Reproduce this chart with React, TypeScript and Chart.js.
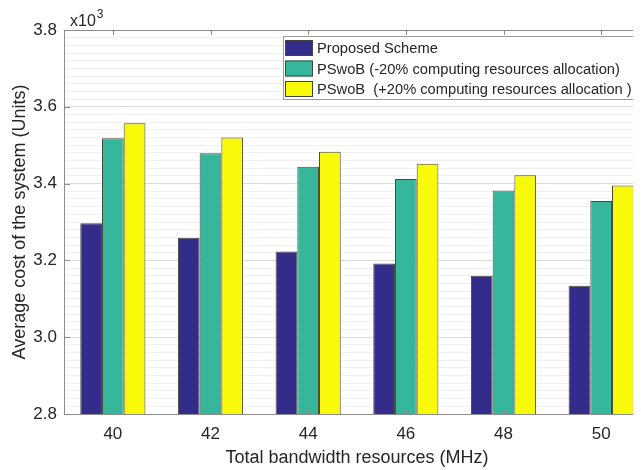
import React, { useEffect, useRef } from "react";
import { Chart, registerables } from "chart.js";

Chart.register(...registerables);

const categories = ["40", "42", "44", "46", "48", "50"];
const proposedScheme = [3.297, 3.259, 3.223, 3.192, 3.160, 3.134];
const pswobMinus20 = [3.518, 3.479, 3.444, 3.412, 3.382, 3.355];
const pswobPlus20 = [3.557, 3.520, 3.483, 3.452, 3.422, 3.395];
const seriesLabels = [
  "Proposed Scheme",
  "PSwoB (-20% computing resources allocation)",
  "PSwoB  (+20% computing resources allocation )",
];
const seriesColors = ["#332c8a", "#36b79c", "#f9f90a"];
const yMin = 2.8;
const yMax = 3.8;
const yMinorStep = 0.02;

const FONT = "'Liberation Sans', Arial, Helvetica, sans-serif";

const isMajor = (v: number) => Math.round(v * 100) % 20 === 0;

const framePlugin = {
  id: "frame",
  afterDatasetsDraw(chart: any) {
    const { ctx, chartArea } = chart;
    const { left, right, top, bottom } = chartArea;
    const x = chart.scales.x;
    const y = chart.scales.y;
    ctx.save();
    ctx.strokeStyle = "#8c8c8c";
    ctx.lineWidth = 1;
    ctx.beginPath();
    ctx.moveTo(left + 0.5, top + 0.5);
    ctx.lineTo(right, top + 0.5);
    ctx.moveTo(left + 0.5, top);
    ctx.lineTo(left + 0.5, bottom + 0.5);
    ctx.lineTo(right, bottom + 0.5);
    for (let i = 0; i < categories.length; i++) {
      const px = Math.round(x.getPixelForValue(i)) + 0.5;
      ctx.moveTo(px, top);
      ctx.lineTo(px, top + 5);
      ctx.moveTo(px, bottom);
      ctx.lineTo(px, bottom - 5);
    }
    for (let v = yMin; v <= yMax + 1e-9; v += 0.2) {
      const py = Math.round(y.getPixelForValue(v)) + 0.5;
      ctx.moveTo(left, py);
      ctx.lineTo(left + 6, py);
    }
    ctx.stroke();

    ctx.fillStyle = "#262626";
    ctx.textBaseline = "alphabetic";
    ctx.textAlign = "left";
    ctx.font = `16px ${FONT}`;
    ctx.fillText("x10", left + 6, top - 4);
    const w = ctx.measureText("x10").width;
    ctx.font = `12px ${FONT}`;
    ctx.fillText("3", left + 6 + w + 1, top - 12);

    const datasets = chart.data.datasets;
    const boxLeft = left + 219;
    const boxTop = top + 6;
    const boxW = 356;
    const rowH = 20.5;
    const boxH = 63;
    ctx.fillStyle = "#ffffff";
    ctx.fillRect(boxLeft, boxTop, boxW, boxH);
    ctx.strokeStyle = "#9a9a9a";
    ctx.strokeRect(boxLeft + 0.5, boxTop + 0.5, boxW, boxH);
    ctx.font = `14.7px ${FONT}`;
    ctx.textBaseline = "middle";
    for (let i = 0; i < datasets.length; i++) {
      const cy = boxTop + 12 + i * rowH;
      ctx.fillStyle = datasets[i].backgroundColor;
      ctx.fillRect(boxLeft + 2, cy - 8, 28, 16);
      ctx.strokeStyle = "#444444";
      ctx.strokeRect(boxLeft + 2.5, cy - 7.5, 27, 15);
      ctx.fillStyle = "#262626";
      ctx.fillText(datasets[i].label, boxLeft + 34, cy + 1);
    }
    ctx.restore();
  },
};

export default function App() {
  const ref = useRef<HTMLCanvasElement | null>(null);
  useEffect(() => {
    if (!ref.current) return;
    const values = [proposedScheme, pswobMinus20, pswobPlus20];
    const chart = new Chart(ref.current, {
      type: "bar",
      data: {
        labels: categories,
        datasets: values.map((d, i) => ({
          label: seriesLabels[i],
          data: d,
          backgroundColor: seriesColors[i],
          borderColor: "#4a4a3a",
          borderWidth: 1,
          borderSkipped: false,
          categoryPercentage: 0.667,
          barPercentage: 1,
        })),
      },
      options: {
        responsive: false,
        animation: false,
        layout: { padding: { top: 22, right: 18, left: 0, bottom: 0 } },
        plugins: { legend: { display: false }, tooltip: { enabled: false } },
        scales: {
          x: {
            grid: { display: false, drawTicks: false },
            border: { display: false },
            ticks: {
              color: "#262626",
              font: { family: FONT, size: 17 },
              padding: 10,
            },
            title: {
              display: true,
              text: "Total bandwidth resources (MHz)",
              color: "#262626",
              font: { family: FONT, size: 18 },
              padding: { top: 0, bottom: 1 },
            },
            afterFit: (s: any) => {
              s.height = 56;
            },
          },
          y: {
            min: yMin,
            max: yMax,
            border: { display: false },
            grid: {
              drawTicks: false,
              color: (c: any) => (isMajor(c.tick.value) ? "#dadada" : "#f0f0f0"),
              lineWidth: 1,
            },
            ticks: {
              stepSize: yMinorStep,
              maxTicksLimit: 200,
              autoSkip: false,
              color: "#262626",
              font: { family: FONT, size: 17 },
              padding: 7,
              callback: (v: any) => {
                const n = Number(v);
                return isMajor(n) ? (Math.round(n * 100) / 100).toFixed(1) : "";
              },
            },
            title: {
              display: true,
              text: "Average cost of the system (Units)",
              color: "#262626",
              font: { family: FONT, size: 18 },
              padding: { top: 1, bottom: 0 },
            },
            afterFit: (s: any) => {
              s.width = 56;
            },
          },
        },
      },
      plugins: [framePlugin],
    });
    return () => chart.destroy();
  }, []);
  return (
    <div style={{ position: "relative", width: 633, height: 462, overflow: "hidden" }}>
      <canvas ref={ref} width={660} height={462} style={{ width: 660, height: 462, display: "block" }} />
    </div>
  );
}
